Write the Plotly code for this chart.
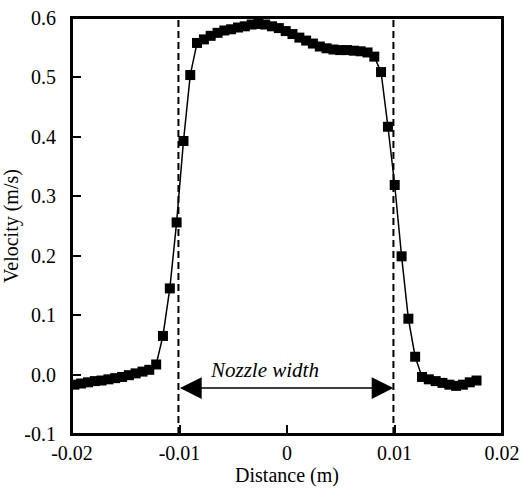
import plotly.graph_objects as go

# Data
distance_m = [
    -0.01978, -0.01915, -0.01851, -0.01788, -0.01725, -0.01661, -0.01598, -0.01534,
    -0.01471, -0.01408, -0.01344, -0.01281, -0.01217, -0.01154, -0.01090, -0.01027,
    -0.00963, -0.00900, -0.00837, -0.00773, -0.00710, -0.00646, -0.00583, -0.00520,
    -0.00456, -0.00393, -0.00329, -0.00266, -0.00203, -0.00139, -0.00076, -0.00012,
    0.00051, 0.00115, 0.00178, 0.00241, 0.00305, 0.00368, 0.00432, 0.00495,
    0.00558, 0.00622, 0.00685, 0.00749, 0.00812, 0.00875, 0.00939, 0.01002,
    0.01066, 0.01129, 0.01192, 0.01256, 0.01319, 0.01383, 0.01446, 0.01510,
    0.01573, 0.01636, 0.01700, 0.01763,
]
velocity_ms = [
    -0.017, -0.015, -0.013, -0.011, -0.010, -0.008, -0.006, -0.004,
    -0.001, 0.002, 0.005, 0.008, 0.017, 0.065, 0.145, 0.256,
    0.393, 0.504, 0.558, 0.564, 0.570, 0.575, 0.579, 0.581,
    0.584, 0.586, 0.589, 0.590, 0.589, 0.586, 0.583, 0.578,
    0.573, 0.567, 0.562, 0.557, 0.552, 0.549, 0.547, 0.546,
    0.546, 0.545, 0.544, 0.542, 0.535, 0.509, 0.417, 0.319,
    0.199, 0.094, 0.030, -0.004, -0.008, -0.011, -0.014, -0.017,
    -0.019, -0.017, -0.013, -0.010,
]
nozzle_edges = [-0.0101, 0.0099]
arrow_level = -0.0226
label_x = -0.00205
label_level = 0.008

x_tickvals = [-0.02, -0.01, 0, 0.01, 0.02]
x_ticktext = ["-0.02", "-0.01", "0", "0.01", "0.02"]
y_tickvals = [-0.1, 0.0, 0.1, 0.2, 0.3, 0.4, 0.5, 0.6]
y_ticktext = ["-0.1", "0.0", "0.1", "0.2", "0.3", "0.4", "0.5", "0.6"]

FONT = "Liberation Serif, Times New Roman, serif"
FS = 20
PAD = "\u00a0\u00a0"  # small gap between y tick labels and the axis

fig = go.Figure()
fig.add_trace(go.Scatter(
    x=distance_m, y=velocity_ms, mode="lines+markers",
    line=dict(color="black", width=1.5),
    marker=dict(symbol="square", size=10, color="black"),
    showlegend=False,
))

for xe in nozzle_edges:
    fig.add_shape(type="line", xref="x", yref="paper", x0=xe, x1=xe, y0=0, y1=1,
                  line=dict(color="black", width=2, dash="7px,4px"))

# plot frame
fig.add_shape(type="rect", xref="paper", yref="paper", x0=0, x1=1, y0=0, y1=1,
              line=dict(color="black", width=2), fillcolor="rgba(0,0,0,0)", layer="above")

fig.add_annotation(x=nozzle_edges[1], y=arrow_level, ax=nozzle_edges[0], ay=arrow_level,
                   xref="x", yref="y", axref="x", ayref="y", text="",
                   showarrow=True, arrowhead=2, arrowside="end+start",
                   arrowsize=2.9, arrowwidth=1.5, arrowcolor="black",
                   standoff=0, startstandoff=0)
fig.add_annotation(x=label_x, y=label_level,
                   xref="x", yref="y", text="<i>Nozzle width</i>", showarrow=False,
                   font=dict(family=FONT, size=21, color="black"))

axis_common = dict(showline=True, linecolor="black", linewidth=2, mirror=True,
                   ticks="inside", ticklen=9, tickwidth=1.5, tickcolor="black",
                   showgrid=False, zeroline=False, automargin=False,
                   tickfont=dict(family=FONT, size=FS, color="black"))

fig.update_xaxes(range=[-0.02, 0.02], tickvals=x_tickvals, ticktext=x_ticktext,
                 title=dict(text="Distance (m)", font=dict(family=FONT, size=FS, color="black"),
                            standoff=0),
                 **axis_common)
fig.update_yaxes(range=[-0.1, 0.6], tickvals=y_tickvals,
                 ticktext=[t + PAD for t in y_ticktext],
                 title=dict(text="Velocity (m/s)", font=dict(family=FONT, size=FS, color="black"),
                            standoff=4),
                 **axis_common)

fig.update_layout(width=522, height=488, margin=dict(l=72, r=20, t=18, b=54),
                  plot_bgcolor="white", paper_bgcolor="white",
                  font=dict(family=FONT, size=FS, color="black"))

fig.write_html("out.html", config={"displayModeBar": False},
               post_script="document.body.style.margin='0px';")
